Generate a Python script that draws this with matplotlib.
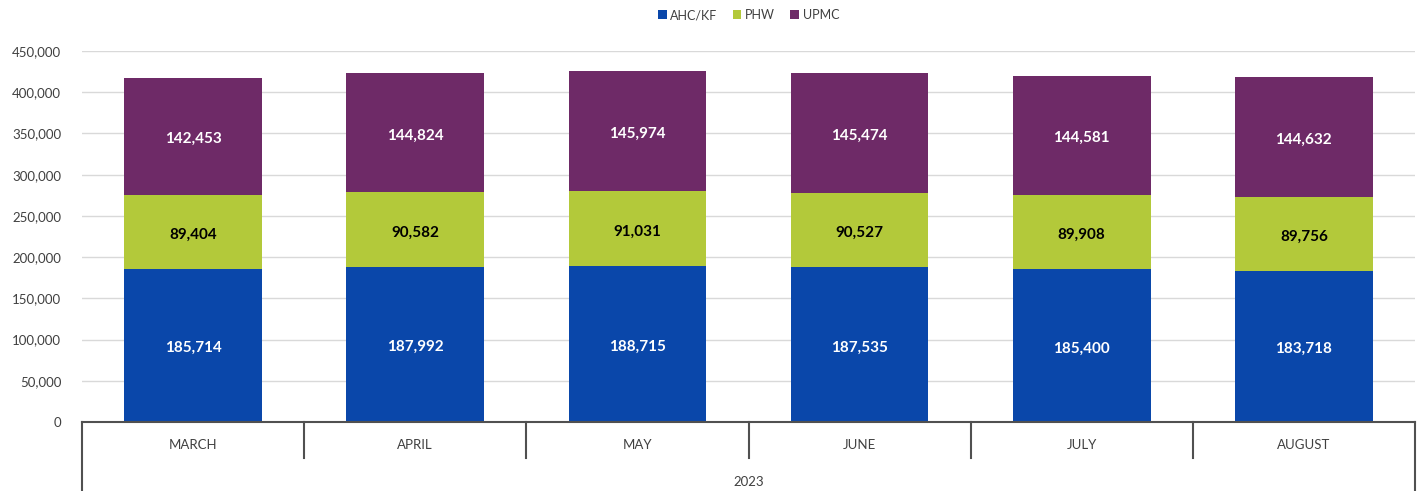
import numpy as np
import matplotlib
matplotlib.use("Agg")
import matplotlib.pyplot as plt
from matplotlib.ticker import FuncFormatter

months = ["MARCH", "APRIL", "MAY", "JUNE", "JULY", "AUGUST"]
year_label = "2023"
ahc_kf = [185714, 187992, 188715, 187535, 185400, 183718]
phw = [89404, 90582, 91031, 90527, 89908, 89756]
upmc = [142453, 144824, 145974, 145474, 144581, 144632]

series = [("AHC/KF", ahc_kf, "#0A47AA", "white"),
          ("PHW", phw, "#B3C93A", "black"),
          ("UPMC", upmc, "#6E2A67", "white")]

plt.rcParams["font.family"] = ["Lato", "DejaVu Sans"]

W, H = 1423, 491
fig = plt.figure(figsize=(W / 100, H / 100), dpi=100)
ax = fig.add_axes([82 / W, 1 - 422 / H, (1415 - 82) / W, (422 - 51) / H])

x = np.arange(len(months))
bottom = np.zeros(len(months))
for name, vals, col, tcol in series:
    vals = np.array(vals, dtype=float)
    ax.bar(x, vals, width=0.62, bottom=bottom, color=col, label=name, zorder=2)
    for xi, b, v in zip(x, bottom, vals):
        # Excel-style labels sit a touch below the segment centre
        ax.annotate(f"{int(v):,}", (xi, b + v / 2), xytext=(0, -2),
                    textcoords="offset points", ha="center", va="center",
                    color=tcol, fontsize=11, fontweight="bold", zorder=3)
    bottom += vals

ax.set_xlim(-0.5, len(months) - 0.5)
ax.set_ylim(0, 450000)
ax.set_yticks(np.arange(0, 450001, 50000))
ax.yaxis.set_major_formatter(FuncFormatter(lambda v, p: f"{int(v):,}"))
ax.tick_params(axis="y", length=0, labelsize=9.5, labelcolor="#404040", pad=15)
ax.grid(axis="y", color="#D9D9D9", lw=1, zorder=0)
for s in ("left", "right", "top"):
    ax.spines[s].set_visible(False)
ax.spines["bottom"].set_color("#505050")
ax.spines["bottom"].set_linewidth(1.5)
ax.set_xticks([])

# two-level category axis
ph = 422 - 51
n = len(months)
for i in range(n + 1):
    xa = i / n
    ln = 75 / ph if i in (0, n) else 36 / ph
    ax.plot([xa, xa], [0, -ln], transform=ax.transAxes, color="#505050",
            lw=1.5, clip_on=False)
for i, m in enumerate(months):
    ax.text((i + 0.5) / n, -23 / ph, m, transform=ax.transAxes,
            ha="center", va="center", fontsize=9.5, color="#404040")
ax.text(0.5, -60 / ph, year_label, transform=ax.transAxes,
        ha="center", va="center", fontsize=9.5, color="#404040")

fig.legend(loc="center", bbox_to_anchor=((82 + 1415) / 2 / W, 1 - 15 / H), ncol=3,
           frameon=False, fontsize=9, handlelength=0.7, handleheight=0.7,
           handletextpad=0.3, columnspacing=1.2, labelcolor="#404040")

fig.savefig("out.png", dpi=100)
